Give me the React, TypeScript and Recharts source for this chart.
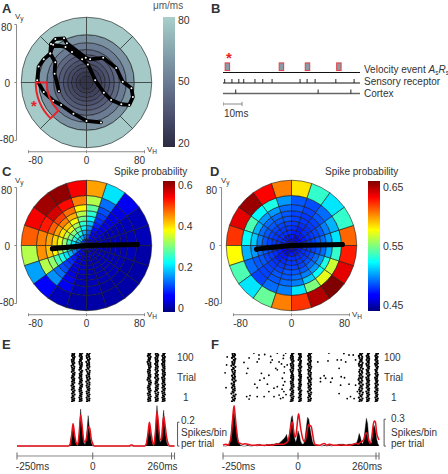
import React from "react";
import {
  PieChart, Pie, Cell, ScatterChart, Scatter, XAxis, YAxis, ReferenceLine,
  BarChart, Bar, ComposedChart, Line, Area,
} from "recharts";

const FONT = '"Liberation Sans", Arial, sans-serif';
const INK = "#333";
const AXIS_GRAY = "#8a8a8a";

/* ── Polar bins: speed edges of the rings, 18 degree sectors from east, counter-clockwise ── */
const edgesA = [0, 9.5, 15, 21, 26, 32, 38.5, 45.5, 55, 66, 90];
const edgesCD = [0, 9, 15.2, 21.4, 27.6, 33.8, 40.7, 48, 56.5, 69, 90];

const speedRingsA = [22, 25, 28, 31, 34, 38, 43, 50, 58, 80];
const trajectoryA = [
  { x: -38, y: -12 }, { x: -44, y: 12 }, { x: -43, y: 28 }, { x: -50, y: 40 }, { x: -46, y: 52 },
  { x: -29, y: 49 }, { x: -20, y: 42 }, { x: -6, y: 32 }, { x: 2, y: 25 }, { x: 12, y: 3 },
  { x: 24, y: -14 }, { x: 34, y: -24 }, { x: 48, y: -30 }, { x: 59, y: -31 }, { x: 64, y: -20 },
  { x: 62, y: -8 }, { x: 50, y: 1 }, { x: 41, y: 20 }, { x: 23, y: 34 }, { x: 5, y: 32 },
  { x: -1, y: 34 }, { x: -27, y: 54 }, { x: -31, y: 61 }, { x: -43, y: 60 }, { x: -49, y: 53 },
  { x: -50, y: 40 }, { x: -59, y: 32 }, { x: -66, y: 22 }, { x: -68, y: 3 }, { x: -59, y: -13 },
  { x: -46, y: -25 }, { x: -35, y: -31 }, { x: -18, y: -43 }, { x: 0, y: -53 }, { x: 20, y: -55 },
];

const probC = [
  [.05, .05, .05, .05, .06, .08, .1, .12, .13, .13, .11, .09, .06, .05, .04, .04, .04, .04, .04, .04],
  [.04, .04, .05, .06, .11, .14, .18, .2, .19, .17, .16, .12, .07, .05, .04, .04, .04, .03, .04, .04],
  [.04, .04, .05, .07, .13, .18, .23, .25, .24, .21, .2, .15, .08, .05, .04, .04, .04, .03, .03, .04],
  [.03, .04, .05, .08, .16, .22, .28, .3, .29, .26, .25, .18, .09, .05, .04, .03, .03, .03, .03, .03],
  [.03, .03, .05, .09, .19, .25, .32, .36, .34, .31, .29, .21, .1, .05, .04, .03, .03, .03, .03, .03],
  [.03, .03, .05, .1, .22, .29, .37, .41, .39, .36, .33, .24, .11, .05, .04, .03, .03, .03, .03, .03],
  [.03, .03, .05, .11, .25, .33, .42, .45, .43, .4, .38, .27, .12, .05, .03, .03, .03, .03, .03, .03],
  [.03, .03, .05, .12, .28, .38, .46, .49, .47, .43, .41, .31, .14, .06, .03, .03, .03, .03, .03, .03],
  [.03, .03, .05, .14, .33, .45, .52, .55, .51, .45, .44, .33, .16, .06, .03, .03, .02, .02, .02, .03],
  [.03, .03, .06, .21, .43, .53, .59, .58, .53, .47, .33, .17, .07, .03, .02, .02, .02, .02, .02, .02],
];

const probD = [
  [.476, .476, .472, .472, .476, .476, .476, .48, .48, .476, .476, .472, .472, .476, .476, .476, .476, .476, .48, .476],
  [.48, .476, .476, .476, .48, .48, .48, .48, .484, .48, .48, .476, .476, .476, .48, .48, .48, .48, .48, .48],
  [.484, .48, .48, .48, .48, .484, .484, .484, .484, .484, .484, .48, .48, .48, .484, .484, .484, .484, .484, .484],
  [.486, .484, .484, .48, .484, .486, .486, .486, .486, .486, .486, .484, .48, .484, .486, .486, .486, .486, .486, .486],
  [.488, .486, .484, .484, .486, .488, .488, .488, .488, .488, .488, .486, .484, .486, .488, .488, .488, .49, .49, .488],
  [.492, .488, .486, .486, .488, .492, .492, .492, .492, .492, .492, .488, .486, .488, .492, .492, .492, .496, .496, .492],
  [.496, .492, .488, .486, .488, .492, .496, .496, .496, .5, .496, .492, .488, .492, .492, .496, .5, .505, .505, .496],
  [.505, .5, .492, .488, .492, .496, .505, .505, .51, .515, .505, .492, .488, .492, .496, .5, .515, .525, .53, .51],
  [.52, .51, .496, .49, .492, .505, .53, .525, .54, .525, .51, .496, .488, .496, .5, .52, .55, .57, .565, .535],
  [.605, .535, .52, .535, .58, .6, .625, .645, .63, .615, .575, .54, .52, .545, .6, .615, .64, .652, .63, .62],
];

const lineCD = [{ x: -47, y: -4.6 }, { x: -26, y: -2.3 }, { x: 0, y: 0 }, { x: 70, y: 1.4 }];
const lineD = [{ x: -48, y: -5 }, { x: -26, y: -2.5 }, { x: 0, y: 0 }, { x: 70, y: 1.4 }];

/* ── Colour maps (offset, colour) ── */
const jetStops: [number, string][] = [
  [0, "#00007f"], [.11, "#0000ff"], [.125, "#0000ff"], [.375, "#00ffff"],
  [.625, "#ffff00"], [.875, "#ff0000"], [1, "#7f0000"],
];
const boneStops: [number, string][] = [
  [0, "#2a2a42"], [.27, "#4f5472"], [.5, "#6b7b93"], [.73, "#85a3ad"], [1, "#a9cfcb"],
];

function hexToRgb(h: string) {
  return [1, 3, 5].map((i) => parseInt(h.slice(i, i + 2), 16));
}
function sample(stops: [number, string][], t: number) {
  const v = Math.max(0, Math.min(1, t));
  for (let i = 1; i < stops.length; i++) {
    if (v <= stops[i][0]) {
      const [a, ca] = stops[i - 1];
      const [b, cb] = stops[i];
      const f = b === a ? 0 : (v - a) / (b - a);
      const ra = hexToRgb(ca), rb = hexToRgb(cb);
      return `rgb(${ra.map((c, k) => Math.round(c + (rb[k] - c) * f)).join(",")})`;
    }
  }
  return stops[stops.length - 1][1];
}

/* ── Panel B ── */
const eventTimes = [2.3, 30.7, 44.4, 60.9];
const receptorTimes = [.9, 4.7, 8.3, 10.9, 16.8, 20.9, 25.8, 40.5, 44.2, 48.4, 59.3, 68.9];
const cortexTimes = [6.7, 50, 67.2];

/* ── Raster rows, each row two spike times (ms), rows run up through the trials ── */
const rasterE = [
  [[-68, -62], [-67, -61], [-69, -64], [-66, -60], [-68, -63], [-65, -60], [-69, -63], [-67, -62], [-70, -65], [-67, -61], [-68, -62], [-66, -61], [-69, -64], [-67, -61], [-65, -60], [-69, -63], [-67, -62], [-68, -61], [-70, -64], [-66, -61], [-68, -63], [-69, -62], [-65, -60], [-68, -62], [-67, -61]],
  [[-43, -37], [-42, -37], [-44, -38], [-42, -37], [-41, -36], [-43, -38], [-44, -39], [-42, -36], [-40, -35], [-44, -38], [-42, -36], [-41, -37], [-44, -38], [-42, -37], [-43, -37], [-40, -35], [-44, -39], [-42, -37], [-41, -36], [-43, -36], [-44, -39], [-42, -36], [-40, -36], [-43, -38], [-42, -35]],
  [[-19, -12], [-18, -11], [-20, -13], [-17, -11], [-19, -13], [-20, -12], [-16, -11], [-18, -13], [-20, -11], [-18, -11], [-21, -14], [-17, -10], [-19, -12], [-20, -12], [-16, -11], [-18, -10], [-21, -14], [-17, -11], [-19, -12], [-18, -12], [-21, -13], [-16, -10], [-19, -12], [-20, -13], [-18, -10]],
  [[184, 190], [183, 189], [185, 191], [184, 189], [182, 188], [186, 191], [184, 189], [182, 187], [184, 190], [186, 192], [185, 190], [181, 187], [183, 190], [185, 190], [184, 188], [182, 189], [183, 188], [186, 191], [185, 190], [183, 190], [181, 187], [184, 189], [185, 191], [182, 188], [184, 190]],
  [[208, 214], [209, 215], [207, 213], [210, 215], [208, 216], [206, 212], [209, 215], [208, 214], [210, 216], [207, 212], [208, 214], [210, 216], [206, 213], [209, 215], [207, 212], [210, 215], [207, 213], [208, 215], [209, 213], [206, 213], [209, 215], [208, 213], [207, 214], [210, 216], [208, 213]],
  [[231, 237], [232, 237], [230, 235], [232, 238], [231, 236], [229, 236], [233, 238], [230, 235], [232, 238], [230, 236], [232, 236], [231, 237], [229, 235], [233, 238], [231, 238], [232, 236], [230, 237], [233, 237], [231, 236], [229, 236], [232, 237], [230, 236], [232, 238], [230, 235], [233, 238]],
];
const rasterF = [
  [[-220, -213], [-216, -210], [-219, -212], [-215, -208], [-222, -215], [-218, -211], [-216, -211], [-220, -212], [-217, -213], [-221, -213], [-214, -208], [-219, -212], [-217, -210], [-220, -212], [-215, -211], [-218, -210], [-220, -214], [-216, -209], [-222, -214], [-218, -212], [-219, -211], [-214, -209], [-220, -213], [-217, -210], [-218, -212]],
  [[-24, -18], [-22, -17], [-21, -15], [-24, -18], [-22, -16], [-20, -16], [-25, -19], [-22, -15], [-21, -16], [-23, -18], [-24, -17], [-19, -16], [-23, -16], [-22, -17], [-20, -19], [-23, -17], [-25, -16], [-21, -16], [-23, -16], [-24, -18], [-19, -15], [-22, -17], [-24, -17], [-23, -19], [-20, -15]],
  [[4, 9], [6, 10], [3, 8], [6, 10], [4, 8], [7, 11], [3, 7], [2, 8], [5, 10], [4, 8], [6, 9], [3, 9], [7, 10], [4, 10], [5, 7], [4, 9], [2, 8], [6, 11], [3, 8], [5, 9], [7, 10], [2, 7], [4, 10], [6, 9], [3, 9]],
  [[35, 41], [36, 43], [34, 40], [37, 42], [36, 44], [33, 40], [38, 43], [35, 40], [36, 43], [34, 42], [37, 41], [36, 44], [33, 41], [38, 42], [35, 43], [36, 40], [34, 42], [37, 44], [36, 41], [33, 41], [38, 43], [35, 41], [36, 42], [34, 40], [37, 44]],
  [[205, 212], [207, 215], [203, 211], [208, 214], [205, 216], [207, 211], [204, 214], [206, 212], [209, 216], [204, 211], [206, 214], [202, 212], [208, 215], [205, 211], [207, 214], [204, 212], [206, 216], [209, 212], [204, 213], [203, 215], [206, 212], [208, 213], [205, 214], [203, 211], [207, 214]],
  [[230, 235], [231, 237], [229, 234], [232, 237], [230, 235], [228, 236], [233, 237], [229, 234], [231, 237], [229, 235], [232, 237], [230, 235], [228, 235], [233, 238], [229, 236], [231, 234], [229, 236], [233, 237], [230, 235], [228, 236], [232, 236], [229, 237], [231, 236], [229, 234], [233, 237]],
  [[259, 264], [260, 266], [258, 263], [261, 265], [259, 263], [257, 265], [261, 265], [258, 262], [260, 266], [258, 263], [261, 265], [259, 263], [257, 264], [261, 266], [258, 264], [260, 262], [258, 264], [262, 266], [259, 263], [257, 264], [261, 265], [258, 263], [260, 265], [258, 262], [261, 266]],
];
const sparseF = [
  [-238, 76], [-243, 60], [-236, 92], [-240, 30], [-147, 100], [-130, 96], [-111, 97], [-163, 90], [-180, 81], [-130, 88], [-136, 82],
  [-167, 69], [-171, 59], [-122, 59], [-127, 45], [-113, 49], [-144, 37], [-136, 30], [-171, 12], [-163, 7],
  [-160, 14], [-136, 12], [-113, 12], [-91, 93], [-86, 86], [-91, 81], [-69, 100], [-63, 82], [-74, 69],
  [-69, 66], [-97, 55], [-102, 37], [-97, 22], [-80, 29], [-69, 32], [-63, 15], [-80, 12], [-58, 8],
  [-49, 89], [-45, 72], [-52, 49], [-49, 35], [-47, 22], [-41, 100], [-36, 76], [-46, 60], [-50, 10], [-44, 42],
  [-55, 78], [-40, 16], [-53, 27], [-48, 95], [66, 82], [103, 100], [100, 84], [87, 54], [75, 49], [92, 49], [75, 42],
  [114, 49], [109, 41], [137, 69], [131, 86], [144, 86], [159, 82], [153, 99], [144, 52], [155, 50], [170, 96],
  [184, 96], [203, 94], [192, 86], [209, 76], [137, 18], [175, 12], [164, 8], [142, 35], [170, 37], [192, 35],
  [198, 22], [187, 8], [203, 49], [214, 62], [270, 79], [268, 99], [264, 42],
];

/* ── Histograms: bin time, spikes/bin, model rate ── */
const histTimesE = [-250, -80, -75, -70, -65, -60, -55, -50, -45, -40, -35, -30, -25, -20, -15, -10, -5, 0, 5, 120, 126, 130, 136, 172, 177, 182, 187, 192, 197, 202, 207, 212, 217, 222, 227, 230, 234, 239, 244, 249, 255, 270];
const histCountsE = [0, 0, .02, .1, .16, .08, .02, 0, .1, .31, .14, .03, .01, .1, .255, .12, .03, 0, 0, 0, 0, 0, 0, 0, .02, .09, .17, .08, .02, 0, .12, .34, .14, .03, .05, .18, .3, .13, .03, 0, 0, 0];
const histRateE = [0, 0, .01, .08, .19, .1, .03, .01, .1, .26, .17, .05, .03, .07, .16, .15, .06, .02, 0, 0, .008, .008, 0, 0, .02, .1, .2, .12, .04, .01, .12, .29, .18, .06, .05, .14, .25, .17, .07, .02, 0, 0];

const histTimesF = [-250, -240, -232, -228, -224, -220, -216, -213, -210, -206, -202, -198, -192, -184, -176, -168, -160, -152, -144, -136, -128, -120, -112, -104, -96, -88, -80, -72, -64, -56, -48, -42, -38, -34, -30, -26, -22, -19, -16, -12, -8, -4, 0, 2, 5, 8, 12, 16, 20, 24, 28, 32, 36, 40, 44, 48, 52, 56, 70, 80, 88, 96, 104, 112, 120, 128, 136, 144, 152, 160, 168, 176, 184, 192, 196, 200, 204, 208, 212, 216, 220, 224, 228, 232, 236, 240, 246, 250, 254, 258, 262, 266, 270];
const histCountsF = [0, 0, .01, .03, .1, .25, .36, .38, .3, .2, .1, .04, .01, 0, 0, .01, 0, 0, .01, 0, .02, .01, 0, .02, .01, .02, .02, .03, .03, .05, .08, .1, .13, .06, .08, .22, .32, .34, .26, .1, .04, .08, .17, .15, .12, .06, .03, .02, .03, .1, .22, .32, .3, .2, .12, .05, .02, .01, .01, 0, .01, 0, .01, 0, .01, .01, .02, .02, .02, .01, .02, .02, .02, .03, .04, .08, .14, .1, .04, .02, .08, .2, .31, .25, .08, .03, .04, .2, .23, .18, .08, .03, 0];
const histRateF = [.01, .02, .01, .04, .08, .2, .38, .45, .36, .22, .1, .04, .03, .02, .025, .02, .015, .01, .01, .015, .01, .01, .01, .01, .015, .01, .015, .02, .02, .02, .02, .03, .04, .05, .1, .17, .25, .27, .2, .12, .1, .2, .33, .36, .3, .22, .14, .08, .05, .06, .12, .2, .24, .23, .22, .15, .07, .02, .01, .02, .03, .01, .02, .015, .01, .01, .01, .015, .01, .01, .01, .01, .02, .03, .03, .02, .03, .04, .05, .06, .08, .13, .15, .12, .06, .03, .1, .22, .28, .27, .15, .1, .07];

// two spikes of a row land on neighbouring trials
const rows = (rs: number[][]) =>
  rs.flatMap((pair, i) => pair.map((t, k) => ({ t, trial: 2 + i * 4 + k * 2 })));
const histRows = (ts: number[], counts: number[], rate: number[]) =>
  ts.map((t, i) => ({ t, count: counts[i], rate: rate[i] }));

/* ── Text ── */
function Txt({ x, y, size = 10, color = INK, bold, children }: any) {
  return (
    <div style={{
      position: "absolute", left: x, top: y - size / 2, fontSize: size, lineHeight: 1,
      color, fontWeight: bold ? 700 : 400, fontFamily: FONT, whiteSpace: "nowrap",
    }}>{children}</div>
  );
}
const subStyle = { fontSize: 6.5, verticalAlign: -2, lineHeight: 0 };

/* ── Polar panel ── */
const UNIT = 0.725;
const PLOT = 145;
const MARGIN_L = 25;
const MARGIN_T = 10;
const CHART_W = PLOT + MARGIN_L + 15;
const CHART_H = PLOT + MARGIN_T + 15;

const equalSectors = (n: number) => Array.from({ length: n }, () => ({ value: 1 }));

function PolarPanel({ cx, cy, edges, ringColors, path, thick, wedge }: any) {
  const pcx = MARGIN_L + PLOT / 2;
  const pcy = MARGIN_T + PLOT / 2;
  const layer = { position: "absolute" as const, left: 0, top: 0 };
  const seg = (a: number[], b: number[], key: string) => (
    <ReferenceLine key={key} ifOverflow="visible" stroke={AXIS_GRAY} strokeWidth={1}
      segment={[{ x: a[0], y: a[1] }, { x: b[0], y: b[1] }]} />
  );
  return (
    <div style={{ position: "absolute", left: cx - pcx, top: cy - pcy, width: CHART_W, height: CHART_H }}>
      <div style={layer}>
        <PieChart width={CHART_W} height={CHART_H} margin={{ top: 0, right: 0, bottom: 0, left: 0 }}>
          {ringColors.map((colors: string[], r: number) => (
            <Pie key={r} data={equalSectors(colors.length)} dataKey="value" cx={pcx} cy={pcy}
              innerRadius={edges[r] * UNIT} outerRadius={edges[r + 1] * UNIT}
              startAngle={0} endAngle={360} stroke="#1a1a1a" strokeWidth={0.6} isAnimationActive={false}>
              {colors.map((c, i) => <Cell key={i} fill={c} />)}
            </Pie>
          ))}
        </PieChart>
      </div>
      <div style={layer}>
        <ScatterChart width={CHART_W} height={CHART_H} margin={{ top: MARGIN_T, right: 15, bottom: 0, left: 0 }}>
          <XAxis type="number" dataKey="x" domain={[-100, 100]} ticks={[-80, 0, 80]} interval={0} height={15}
            axisLine={false} tickLine={false} tickSize={0} tickMargin={0}
            tick={(p: any) => (
              <text x={p.x + (p.payload.value < 0 ? 7 : p.payload.value > 0 ? -5 : 0)} y={p.y + 9} textAnchor="middle"
                fontSize={10} fill={INK} fontFamily={FONT}>{p.payload.value}</text>
            )} />
          <YAxis type="number" dataKey="y" domain={[-100, 100]} ticks={[-80, 0, 80]} interval={0} width={MARGIN_L}
            axisLine={false} tickLine={false} tickSize={0} tickMargin={0}
            tick={(p: any) => (
              <text x={p.x + (p.payload.value === 0 ? -4 : p.payload.value > 0 ? -2 : 0)}
                y={p.y + 4 + (p.payload.value > 0 ? 2 : p.payload.value < 0 ? -2 : 0)} textAnchor="end"
                fontSize={10} fill={INK} fontFamily={FONT}>{p.payload.value}</text>
            )} />
          {seg([-80, -95.5], [80, -95.5], "xaxis")}
          {seg([-96.5, -80], [-96.5, 80], "yaxis")}
          {[-80, 0, 80].map((v) => seg([v, -93.5], [v, -97.5], `xt${v}`))}
          {[-80, 0, 80].map((v) => seg([-96.5, v], [-99.5, v], `yt${v}`))}
          <Scatter data={path} isAnimationActive={false}
            line={{ stroke: "#000", strokeWidth: thick, strokeLinecap: "round", strokeLinejoin: "round" }}
            lineJointType="linear"
            shape={(p: any) => wedge
              ? <circle cx={p.cx} cy={p.cy} r={1} fill="#fff" />
              : <circle cx={p.cx} cy={p.cy} r={thick / 2} fill="#000" />} />
        </ScatterChart>
      </div>
      {wedge && (
        <div style={layer}>
          <PieChart width={CHART_W} height={CHART_H} margin={{ top: 0, right: 0, bottom: 0, left: 0 }}>
            <Pie data={equalSectors(1)} dataKey="value" cx={pcx} cy={pcy}
              innerRadius={wedge[0] * UNIT} outerRadius={wedge[1] * UNIT} startAngle={180} endAngle={225}
              fill="none" stroke="#e8232a" strokeWidth={2} isAnimationActive={false} />
          </PieChart>
        </div>
      )}
    </div>
  );
}

/* ── Colour bar ── */
function ColorBar({ id, x, top, height, domain, ticks, stops, fmt }: any) {
  const pad = 8;
  return (
    <div style={{ position: "absolute", left: x, top: top - pad }}>
      <BarChart width={46} height={height + pad * 2} data={[{ name: "scale", range: domain }]}
        margin={{ top: pad, right: 0, bottom: pad, left: 0 }} barCategoryGap={0}>
        <defs>
          <linearGradient id={id} x1="0" y1="1" x2="0" y2="0">
            {stops.map(([o, c]: [number, string]) => <stop key={o} offset={o} stopColor={c} />)}
          </linearGradient>
        </defs>
        <XAxis dataKey="name" hide />
        <YAxis orientation="right" width={34} domain={domain} ticks={ticks} interval={0} type="number"
          axisLine={false} tickLine={false} tickSize={0} tickMargin={3} allowDataOverflow
          tickFormatter={fmt} tick={{ fontSize: 10.5, fill: INK, fontFamily: FONT }} />
        <Bar dataKey="range" fill={`url(#${id})`} isAnimationActive={false} />
      </BarChart>
    </div>
  );
}

/* ── Panel B ── */
function EventsPanel() {
  const tick = (p: any) => <line x1={p.cx} x2={p.cx} y1={p.cy - 4} y2={p.cy} stroke="#222" strokeWidth={1} />;
  const scaleSeg = (a: number[], b: number[], key: string) => (
    <ReferenceLine key={key} ifOverflow="visible" stroke={AXIS_GRAY}
      segment={[{ x: a[0], y: a[1] }, { x: b[0], y: b[1] }]} />
  );
  return (
    <div style={{ position: "absolute", left: 223, top: 61.5 }}>
      <ScatterChart width={137} height={46} margin={{ top: 0, right: 0, bottom: 4, left: 0 }}>
        <XAxis type="number" dataKey="t" domain={[0, 72]} hide />
        <YAxis type="number" dataKey="row" domain={[0, 4]} hide />
        <ReferenceLine y={3} stroke="#111" strokeWidth={1.2} />
        <ReferenceLine y={2} stroke="#111" strokeWidth={1.2} />
        <ReferenceLine y={1} stroke="#666" strokeWidth={1.6} />
        {scaleSeg([0, 0], [10, 0], "bar")}
        {scaleSeg([0, -.2], [0, .2], "barL")}
        {scaleSeg([10, -.2], [10, .2], "barR")}
        <Scatter data={eventTimes.map((t) => ({ t, row: 3.55 }))} isAnimationActive={false}
          shape={(p: any) => <rect x={p.cx - 2.2} y={p.cy - 3.8} width={4.4} height={7.6} fill="#8e99a6" stroke="#e2474b" strokeWidth={1.1} />} />
        <Scatter data={receptorTimes.map((t) => ({ t, row: 2 }))} isAnimationActive={false} shape={tick} />
        <Scatter data={cortexTimes.map((t) => ({ t, row: 1 }))} isAnimationActive={false} shape={tick} />
      </ScatterChart>
    </div>
  );
}

/* ── Panels E and F ── */
function SpikePanel({ left, pxPerMs, domain, raster, sparse, hist, yDomain, scaleTop, bracketAt }: any) {
  const width = (domain[1] - domain[0]) * pxPerMs;
  const dense = (p: any) => <circle cx={p.cx} cy={p.cy} r={1.15} fill="#000" />;
  const dot = (p: any) => <circle cx={p.cx} cy={p.cy} r={0.9} fill="#000" />;
  return (
    <>
      <div style={{ position: "absolute", left, top: 353 }}>
        <ScatterChart width={width} height={49} margin={{ top: 0, right: 0, bottom: 0, left: 0 }}>
          <XAxis type="number" dataKey="t" domain={domain} hide allowDataOverflow />
          <YAxis type="number" dataKey="trial" domain={[1, 100]} hide />
          <Scatter data={raster} isAnimationActive={false} shape={dense} />
          {sparse && <Scatter data={sparse} isAnimationActive={false} shape={dot} />}
        </ScatterChart>
      </div>
      <div style={{ position: "absolute", left: left - 6, top: 404.3 }}>
        <ComposedChart width={width + 26} height={72} data={hist} margin={{ top: 0, right: 20, bottom: 0, left: 6 }}>
          <XAxis type="number" dataKey="t" domain={domain} ticks={[-250, 0, 260, 270]} interval={0} height={20}
            axisLine={{ stroke: AXIS_GRAY }} tickLine={false} tickSize={0} tickMargin={0}
            tick={(p: any) => {
              const v = p.payload.value;
              const label = v === -250 ? "-250ms" : v === 260 ? "260ms" : v === 0 ? "0" : "";
              const dx = v === -250 ? 15.5 : v === 260 ? -9 : 0;
              return (
                <g>
                  <line x1={p.x} x2={p.x} y1={p.y - 3.5} y2={p.y + 3.5} stroke="#666" />
                  <text x={p.x + dx} y={p.y + 14} textAnchor="middle" fontSize={10} fill={INK} fontFamily={FONT}>{label}</text>
                </g>
              );
            }} />
          <YAxis type="number" domain={yDomain} hide allowDataOverflow />
          <Area dataKey="count" type="linear" baseValue={0} fill="#000" fillOpacity={1} stroke="#000" strokeWidth={0.4} dot={false} isAnimationActive={false} />
          <Line dataKey="rate" type="monotone" stroke="#e8101a" strokeWidth={1.5} dot={false} isAnimationActive={false} />
          <ReferenceLine ifOverflow="visible" stroke="#555" segment={[{ x: bracketAt, y: 0 }, { x: bracketAt, y: scaleTop }]} />
          <ReferenceLine ifOverflow="visible" stroke="#555" segment={[{ x: bracketAt, y: scaleTop }, { x: bracketAt + 6, y: scaleTop }]} />
          <ReferenceLine ifOverflow="visible" stroke="#555" segment={[{ x: bracketAt, y: 0 }, { x: bracketAt + 6, y: 0 }]} />
        </ComposedChart>
      </div>
    </>
  );
}

const jetCells = (rings: number[][], lo: number, hi: number) =>
  rings.map((r) => r.map((v) => sample(jetStops, (v - lo) / (hi - lo))));
const boneCells = speedRingsA.map((v, r) => {
  const c = sample(boneStops, (v - 18) / 64);
  return Array.from({ length: r === speedRingsA.length - 1 ? 8 : 4 }, () => c);
});

const Vy = ({ x, y }: any) => <Txt x={x} y={y} size={8}>V<sub style={subStyle}>y</sub></Txt>;
const Vh = ({ x, y }: any) => <Txt x={x} y={y} size={8}>V<sub style={subStyle}>H</sub></Txt>;

export default function App() {
  return (
    <div style={{ position: "absolute", left: 0, top: 0, width: 448, height: 474, background: "#fff", overflow: "hidden", fontFamily: FONT }}>
      <Txt x={2} y={8} size={13} bold>A</Txt>
      <Txt x={211} y={8} size={13} bold>B</Txt>
      <Txt x={2} y={171} size={13} bold>C</Txt>
      <Txt x={210} y={171} size={13} bold>D</Txt>
      <Txt x={2} y={344} size={13} bold>E</Txt>
      <Txt x={211} y={344} size={13} bold>F</Txt>

      <PolarPanel cx={86.5} cy={82} edges={edgesA} ringColors={boneCells} path={trajectoryA} thick={3.8} wedge={[55, 70]} />
      <Vy x={15} y={17} /><Vh x={147} y={150} />
      <Txt x={31} y={105} size={15} color="#e8232a" bold>*</Txt>
      <Txt x={153} y={6} color="#555">μm/ms</Txt>
      <ColorBar id="boneBar" x={163} top={17} height={130} domain={[18, 81.4]} ticks={[20, 50, 80]} stops={boneStops} />

      <PolarPanel cx={86} cy={245.7} edges={edgesCD} ringColors={jetCells(probC, 0, .6)} path={lineCD} thick={5} />
      <Vy x={15} y={181} /><Vh x={147} y={315} />
      <Txt x={114} y={172}>Spike probability</Txt>
      <ColorBar id="jetC" x={163} top={181} height={131} domain={[-.02, .62]} ticks={[0, .2, .4, .6]} stops={jetStops} />

      <PolarPanel cx={291.3} cy={245.7} edges={edgesCD} ringColors={jetCells(probD, .45, .65)} path={lineD} thick={5} />
      <Vy x={221} y={181} /><Vh x={352} y={315} />
      <Txt x={325} y={172}>Spike probability</Txt>
      <ColorBar id="jetD" x={368} top={181} height={130} domain={[.44, .66]} ticks={[.45, .55, .65]} stops={jetStops} />

      <EventsPanel />
      <Txt x={226} y={57} size={15} color="#e8232a" bold>*</Txt>
      <Txt x={364} y={70}>Velocity event <i>A</i><sub style={subStyle}>s</sub><i>R</i><sub style={subStyle}>s</sub></Txt>
      <Txt x={364} y={82}>Sensory receptor</Txt>
      <Txt x={364} y={94}>Cortex</Txt>
      <Txt x={224} y={114}>10ms</Txt>

      <SpikePanel left={16.5} pxPerMs={0.303} domain={[-250, 270]} raster={rasterE.flatMap(rows)} bracketAt={280}
        hist={histRows(histTimesE, histCountsE, histRateE)} yDomain={[-.0833, .3525]} scaleTop={.2} />
      <Txt x={177} y={358}>100</Txt><Txt x={177} y={378}>Trial</Txt><Txt x={183} y={398}>1</Txt>
      <Txt x={181} y={421}>0.2</Txt><Txt x={181} y={433}>Spikes/bin</Txt><Txt x={181} y={444}>per trial</Txt>

      <SpikePanel left={223} pxPerMs={0.3} domain={[-250, 270]} raster={rasterF.flatMap(rows)} bracketAt={287}
        sparse={sparseF.map(([t, trial]) => ({ t, trial }))}
        hist={histRows(histTimesF, histCountsF, histRateF)} yDomain={[-.111, .47]} scaleTop={.3} />
      <Txt x={384} y={358}>100</Txt><Txt x={384} y={378}>Trial</Txt><Txt x={391} y={398}>1</Txt>
      <Txt x={391} y={419}>0.3</Txt><Txt x={391} y={433}>Spikes/bin</Txt><Txt x={391} y={444}>per trial</Txt>
    </div>
  );
}
